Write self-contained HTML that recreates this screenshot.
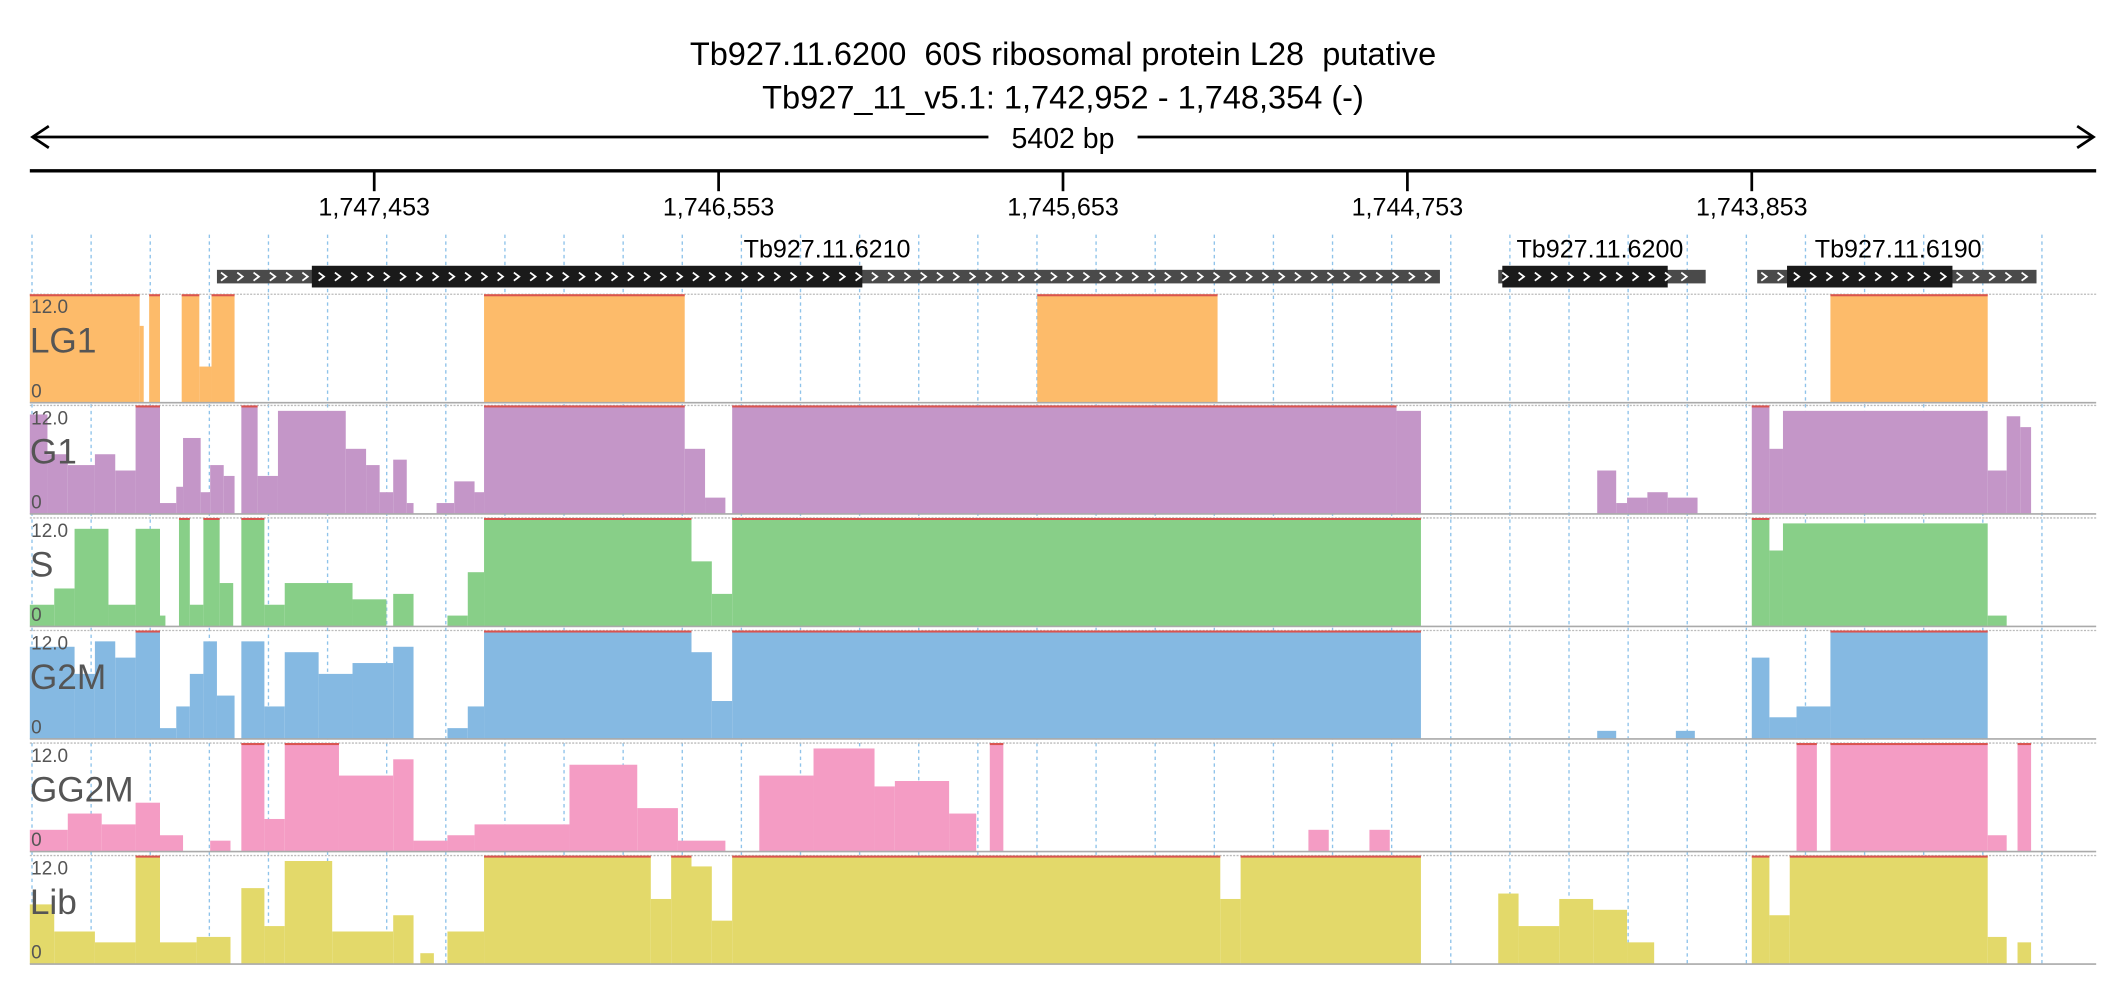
<!DOCTYPE html>
<html><head><meta charset="utf-8"><style>
html,body{margin:0;padding:0;background:#fff;}
svg{display:block;font-family:"Liberation Sans",sans-serif;}
</style></head><body>
<svg id="chart" width="2126" height="1000" viewBox="0 0 1568 737.5" xmlns="http://www.w3.org/2000/svg">
<g id="grid"></g>
<g>
<text x="784" y="48" text-anchor="middle" font-size="24">Tb927.11.6200&#160; 60S ribosomal protein L28&#160; putative</text>
<text x="784" y="80" text-anchor="middle" font-size="24">Tb927_11_v5.1: 1,742,952 - 1,748,354 (-)</text>
</g>
<g stroke="#000" stroke-width="2" fill="none">
<line x1="24" y1="101" x2="1544" y2="101"/>
<polyline points="36,93 24,101 36,109"/>
<polyline points="1532,93 1544,101 1532,109"/>
</g>
<rect x="729" y="88" width="110" height="24" fill="#fff"/>
<text x="784" y="109" text-anchor="middle" font-size="21">5402 bp</text>
<line x1="22" y1="126" x2="1546" y2="126" stroke="#000" stroke-width="2.5"/>
<g id="ticks"></g>
<g id="genes"></g>
<g id="tracks"></g>
</svg>
<script>
// positions are in axis units: 0..1524 across the 5402 bp window (left = 1,748,354)
const tickLabels = ["1,747,453","1,746,553","1,745,653","1,744,753","1,743,853"];
const tickPos = [254,508,762,1016,1270];
const geneNames = ["Tb927.11.6210","Tb927.11.6200","Tb927.11.6190"];
const geneStart = [138,1083,1274];
const geneEnd = [1040,1236,1480];
const cdsStart = [208,1086,1296];
const cdsEnd = [614,1208,1418];
const geneLabelPos = [588,1158,1378];
const trackNames = ["LG1","G1","S","G2M","GG2M","Lib"];
const trackColors = ["#fdbb6a","#c496c8","#88cf88","#85b9e2","#f49cc4","#e3d96a"];
const maxValue = 12;
// segments: [start, end, value]
const lg1 = [[0,81,12],[81,84,8.5],[88,96,12],[112,125,12],[125,134,4],[134,151,12],[335,483,12],[743,876,12],[1328,1444,12]];
const g1 = [[0,13,11],[13,28,6.6],[28,48,5.4],[48,63,6.6],[63,78,4.8],[78,96,12],[96,108,1.2],[108,113,3],[113,126,8.4],[126,133,2.4],[133,143,5.4],[143,151,4.2],[156,168,12],[168,183,4.2],[183,233,11.4],[233,248,7.2],[248,258,5.4],[258,268,2.4],[268,278,6],[278,283,1.2],[300,313,1.2],[313,328,3.6],[328,335,2.4],[335,483,12],[483,498,7.2],[498,513,1.8],[518,1008,12],[1008,1026,11.4],[1156,1170,4.8],[1170,1178,1.2],[1178,1193,1.8],[1193,1208,2.4],[1208,1230,1.8],[1270,1283,12],[1283,1293,7.2],[1293,1444,11.4],[1444,1458,4.8],[1458,1468,10.8],[1468,1476,9.6]];
const sPhase = [[0,18,2.4],[18,33,4.2],[33,58,10.8],[58,78,2.4],[78,96,10.8],[96,100,1.2],[110,118,12],[118,128,2.4],[128,140,12],[140,150,4.8],[156,173,12],[173,188,2.4],[188,238,4.8],[238,263,3],[268,283,3.6],[308,323,1.2],[323,335,6],[335,488,12],[488,503,7.2],[503,518,3.6],[518,1026,12],[1270,1283,12],[1283,1293,8.4],[1293,1444,11.4],[1444,1458,1.2]];
const g2m = [[0,33,10.2],[33,48,7.2],[48,63,10.8],[63,78,9],[78,96,12],[96,108,1.2],[108,118,3.6],[118,128,7.2],[128,138,10.8],[138,151,4.8],[156,173,10.8],[173,188,3.6],[188,213,9.6],[213,238,7.2],[238,268,8.4],[268,283,10.2],[308,323,1.2],[323,335,3.6],[335,488,12],[488,503,9.6],[503,518,4.2],[518,1026,12],[1156,1170,0.9],[1214,1228,0.9],[1270,1283,9],[1283,1303,2.4],[1303,1328,3.6],[1328,1444,12]];
const gg2m = [[0,28,2.4],[28,53,4.2],[53,78,3],[78,96,5.4],[96,113,1.8],[133,148,1.2],[156,173,12],[173,188,3.6],[188,228,12],[228,268,8.4],[268,283,10.2],[283,308,1.2],[308,328,1.8],[328,398,3],[398,448,9.6],[448,478,4.8],[478,513,1.2],[538,578,8.4],[578,623,11.4],[623,638,7.2],[638,678,7.8],[678,698,4.2],[708,718,12],[943,958,2.4],[988,1003,2.4],[1303,1318,12],[1328,1444,12],[1444,1458,1.8],[1466,1476,12]];
const lib = [[0,18,6.6],[18,48,3.6],[48,78,2.4],[78,96,12],[96,123,2.4],[123,148,3],[156,173,8.4],[173,188,4.2],[188,223,11.4],[223,268,3.6],[268,283,5.4],[288,298,1.2],[308,335,3.6],[335,458,12],[458,473,7.2],[473,488,12],[488,503,10.8],[503,518,4.8],[518,878,12],[878,893,7.2],[893,1026,12],[1083,1098,7.8],[1098,1128,4.2],[1128,1153,7.2],[1153,1178,6],[1178,1198,2.4],[1270,1283,12],[1283,1298,5.4],[1298,1444,12],[1444,1458,3],[1466,1476,2.4]];
const trackData = [lg1,g1,sPhase,g2m,gg2m,lib];

const NS="http://www.w3.org/2000/svg";
const X0=22, X1=1546, DOMAIN=1524;
function xs(u){return X0+u/DOMAIN*(X1-X0);}
function mk(tag,attrs,parent){const e=document.createElementNS(NS,tag);for(const k in attrs)e.setAttribute(k,attrs[k]);parent.appendChild(e);return e;}

const grid=document.getElementById('grid');
for(let gx=23.6;gx<=1546;gx+=43.6){
  const l=mk('line',{x1:gx,y1:173,x2:gx,y2:711,stroke:'#8fc3ea','stroke-width':1,'stroke-dasharray':'2.5,2.5'},grid);
  
  
}
const tg=document.getElementById('ticks');
tickPos.forEach((p,i)=>{
  const l=mk('line',{x1:xs(p),y1:126,x2:xs(p),y2:141,stroke:'#000','stroke-width':2},tg);
  
  
  const t=mk('text',{x:xs(p),y:159,'text-anchor':'middle','font-size':18.5},tg);
  t.textContent=tickLabels[i];
  
  
});
const gg=document.getElementById('genes');
geneNames.forEach((n,i)=>{
  const g=mk('g',{},gg);
  
  
  const t=mk('text',{x:xs(geneLabelPos[i]),y:190,'text-anchor':'middle','font-size':18.5},g);
  t.textContent=n;
  mk('rect',{x:xs(geneStart[i]),y:199,width:xs(geneEnd[i])-xs(geneStart[i]),height:10,fill:'#4a4a4a'},g);
  mk('rect',{x:xs(cdsStart[i]),y:196,width:xs(cdsEnd[i])-xs(cdsStart[i]),height:16,fill:'#1a1a1a'},g);
  for(let cx=xs(geneStart[i])+3;cx<xs(geneEnd[i])-6;cx+=12){
    mk('polyline',{points:`${cx},201 ${cx+4},204 ${cx},207`,stroke:'#fff','stroke-width':1.3,fill:'none'},g);
  }
});
const tr=document.getElementById('tracks');
const tops=[217,299,382,465,548,631], H=80;
trackNames.forEach((name,i)=>{
  const g=mk('g',{},tr);
  
  
  const top=tops[i], base=top+H;
  mk('line',{x1:X0,y1:top,x2:X1,y2:top,stroke:'#bbb','stroke-width':1,'stroke-dasharray':'1.5,1'},g);
  trackData[i].forEach(s=>{
    const v=Math.min(s[2],maxValue), h=v/maxValue*H;
    const r=mk('rect',{x:xs(s[0]),y:base-h,width:xs(s[1])-xs(s[0]),height:h,fill:trackColors[i]},g);
    
    
    if(s[2]>=maxValue) mk('rect',{x:xs(s[0]),y:top,width:xs(s[1])-xs(s[0]),height:1.5,fill:'#d9534f'},g);
  });
  mk('line',{x1:X0,y1:base,x2:X1,y2:base,stroke:'#aaa','stroke-width':1.2},g);
  const mx=mk('text',{x:23,y:top+14,'font-size':14,fill:'#555'},g);mx.textContent='12.0';
  const mn=mk('text',{x:23,y:base-4,'font-size':14,fill:'#555'},g);mn.textContent='0';
  const nm=mk('text',{x:22,y:top+43,'font-size':26,fill:'#555'},g);nm.textContent=name;
  
  
});
</script>
</body></html>
